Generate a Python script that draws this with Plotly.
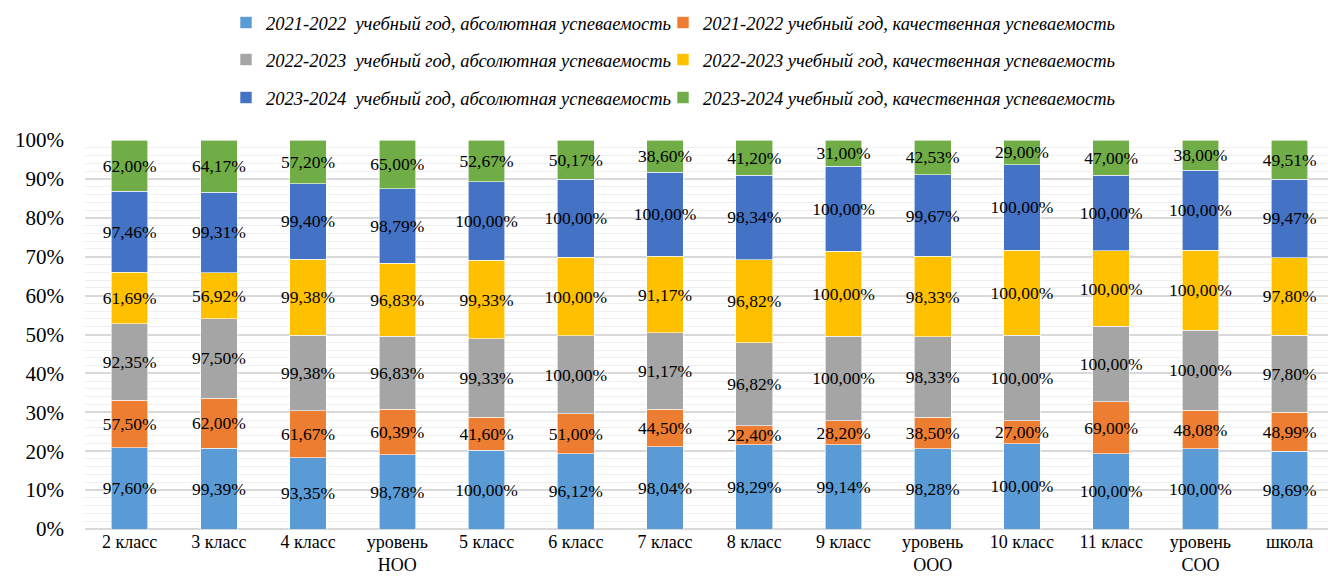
import plotly.graph_objects as go

categories = ["2 класс", "3 класс", "4 класс", "уровень<br>НОО", "5 класс", "6 класс",
              "7 класс", "8 класс", "9 класс", "уровень<br>ООО", "10 класс", "11 класс",
              "уровень<br>СОО", "школа"]

abs_2021 = [97.60, 99.39, 93.35, 98.78, 100.00, 96.12, 98.04, 98.29, 99.14, 98.28, 100.00, 100.00, 100.00, 98.69]
kach_2021 = [57.50, 62.00, 61.67, 60.39, 41.60, 51.00, 44.50, 22.40, 28.20, 38.50, 27.00, 69.00, 48.08, 48.99]
abs_2022 = [92.35, 97.50, 99.38, 96.83, 99.33, 100.00, 91.17, 96.82, 100.00, 98.33, 100.00, 100.00, 100.00, 97.80]
kach_2022 = [61.69, 56.92, 99.38, 96.83, 99.33, 100.00, 91.17, 96.82, 100.00, 98.33, 100.00, 100.00, 100.00, 97.80]
abs_2023 = [97.46, 99.31, 99.40, 98.79, 100.00, 100.00, 100.00, 98.34, 100.00, 99.67, 100.00, 100.00, 100.00, 99.47]
kach_2023 = [62.00, 64.17, 57.20, 65.00, 52.67, 50.17, 38.60, 41.20, 31.00, 42.53, 29.00, 47.00, 38.00, 49.51]

series_names = [
    "2021-2022\u00a0\u00a0учебный год, абсолютная успеваемость",
    "2021-2022 учебный год, качественная успеваемость",
    "2022-2023\u00a0\u00a0учебный год, абсолютная успеваемость",
    "2022-2023 учебный год, качественная успеваемость",
    "2023-2024\u00a0\u00a0учебный год, абсолютная успеваемость",
    "2023-2024 учебный год, качественная успеваемость",
]
series_values = [abs_2021, kach_2021, abs_2022, kach_2022, abs_2023, kach_2023]
colors = ["#5B9BD5", "#ED7D31", "#A5A5A5", "#FFC000", "#4472C4", "#70AD47"]
legend_ids = ["legend", "legend2", "legend3", "legend4", "legend5", "legend6"]

FONT = "Times New Roman, Liberation Serif, Tinos, serif"

fig = go.Figure()
for name, vals, col, lg in zip(series_names, series_values, colors, legend_ids):
    fig.add_trace(go.Bar(
        x=categories, y=vals, name="<i>" + name + "</i>",
        marker=dict(color=col, line=dict(color="white", width=0.6)),
        text=[f"{v:.2f}%".replace(".", ",") for v in vals],
        textposition="inside", insidetextanchor="middle", textangle=0,
        constraintext="none",
        textfont=dict(family=FONT, size=17.5, color="black"),
        hoverinfo="skip", legend=lg, width=0.41,
    ))

leg_common = dict(orientation="h", xref="container", yref="container",
                  xanchor="left", yanchor="middle",
                  font=dict(family=FONT, size=18.5, color="black"),
                  bgcolor="rgba(0,0,0,0)", itemclick=False, itemdoubleclick=False)
col_x = [226 / 1328, 663 / 1328]
row_y = [1 - 23 / 579, 1 - 60 / 579, 1 - 98 / 579]

legend_layout = {}
for i, lg in enumerate(legend_ids):
    legend_layout[lg] = dict(leg_common, x=col_x[i % 2], y=row_y[i // 2])

fig.update_layout(
    width=1328, height=579,
    font=dict(family=FONT, color="black"),
    barmode="stack", barnorm="percent",
    plot_bgcolor="white", paper_bgcolor="white",
    margin=dict(l=85, r=0, t=140, b=50, autoexpand=False),
    uniformtext=dict(minsize=17.5, mode="show"),
    xaxis=dict(type="category", categoryorder="array", categoryarray=categories,
               range=[-0.5, 13.43], showgrid=False, ticks="", showline=False,
               tickfont=dict(family=FONT, size=18, color="black")),
    yaxis=dict(range=[0, 100], dtick=10, ticksuffix="%", showline=False,
               gridcolor="#D9D9D9", gridwidth=1.5, zeroline=True, zerolinecolor="#D9D9D9",
               zerolinewidth=1.5, ticklabelstandoff=20,
               tickfont=dict(family=FONT, size=21, color="black"),
               minor=dict(dtick=2, showgrid=True, gridcolor="#EFEFEF", gridwidth=1)),
    showlegend=True,
    **legend_layout,
)

fig.write_html("out.html", post_script="document.body.style.margin='0';",
               config={"displayModeBar": False})
